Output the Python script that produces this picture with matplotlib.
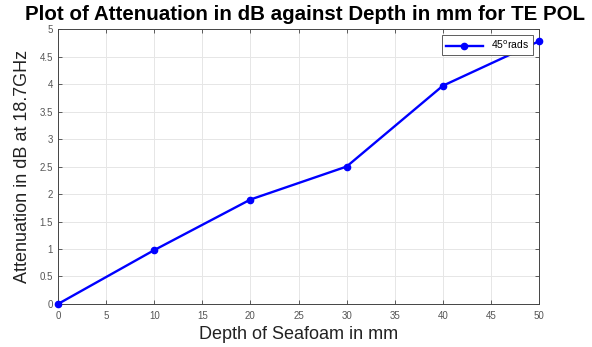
import numpy as np
import matplotlib.pyplot as plt

plt.rcParams['font.family'] = ['Liberation Sans', 'DejaVu Sans']

# データ
depth_mm = [0, 10, 20, 30, 40, 50]
atten_db = [0, 0.98, 1.9, 2.5, 3.97, 4.78]
x_ticks = np.arange(0, 51, 5)
y_ticks = np.arange(0, 5.01, 0.5)
y_tick_labels = ['0', '0.5', '1', '1.5', '2', '2.5', '3', '3.5', '4', '4.5', '5']

fig = plt.figure(figsize=(5.92, 3.47), dpi=100)
ax = fig.add_axes([0.098, 0.124, 0.8125, 0.792])

ax.plot(depth_mm, atten_db, '-o', color='#0000ff', linewidth=1.7, markersize=4.5,
        clip_on=False, zorder=5, label='45$^{\\mathrm{o}}$rads')

ax.set_xlim(0, 50)
ax.set_ylim(0, 5)
ax.set_xticks(x_ticks)
ax.set_yticks(y_ticks)
ax.set_yticklabels(y_tick_labels)
ax.grid(True, color='#e6e6e6', linewidth=0.7)
ax.set_axisbelow(True)
ax.tick_params(direction='in', top=True, right=True, length=3, labelsize=7,
               labelcolor='#555555', color='#444444', width=0.6)
ax.tick_params(axis='x', pad=5)
for s in ax.spines.values():
    s.set_color('#444444')
    s.set_linewidth(0.7)

ax.set_xlabel('Depth of Seafoam in mm', fontsize=13, color='#222222', labelpad=4)
ax.set_ylabel('Attenuation in dB at 18.7GHz', fontsize=13, color='#222222', labelpad=6)
fig.text(0.515, 0.932, 'Plot of Attenuation in dB against Depth in mm for TE POL',
         ha='center', va='bottom', fontsize=14.8, fontweight='bold')

leg = ax.legend(loc='upper right', fontsize=7.5, frameon=True, fancybox=False,
                edgecolor='#444444', borderpad=0.35, handlelength=3.5,
                borderaxespad=0.6, framealpha=1)
leg.get_frame().set_linewidth(0.6)

fig.savefig('out.png', dpi=100)
